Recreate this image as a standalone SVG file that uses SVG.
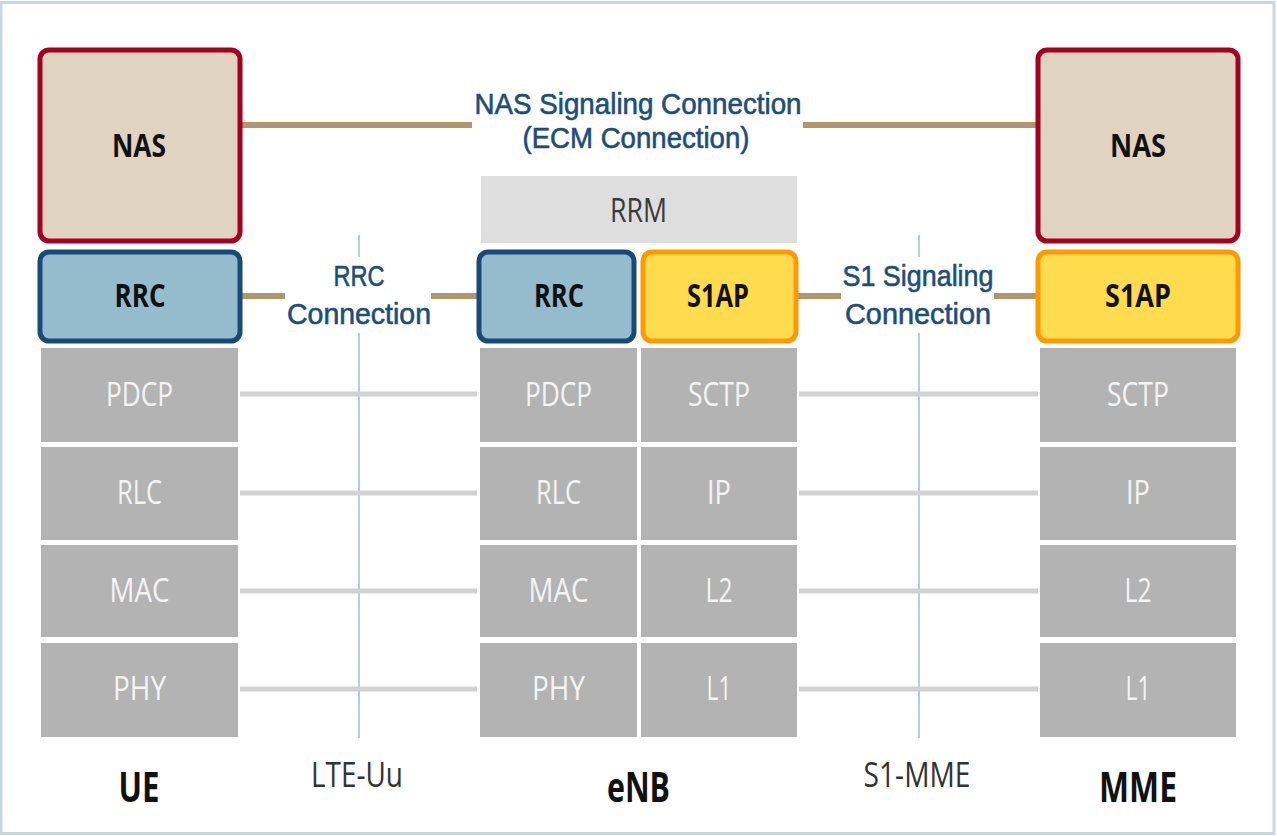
<svg xmlns="http://www.w3.org/2000/svg" width="1277" height="836" viewBox="0 0 1277 836">
  <style>
    .lbl { font-family: "Open Sans", "Liberation Sans", sans-serif; text-anchor: middle; }
    .bold { font-weight: bold; fill: #111111; }
    .layer { fill: #b3b3b3; }
    .layer-txt { fill: #f4f4f4; font-size: 33px; }
    .conn { font-family: "Liberation Sans", "Open Sans", sans-serif; fill: #1d4e7a; font-size: 29px; stroke: #1d4e7a; stroke-width: 0.6; }
    .iface { fill: #333333; font-size: 34px; }
    .nas { fill: #e0d3bf; stroke: #a50021; stroke-width: 5; }
    .rrc { fill: #94bccd; stroke: #174a78; stroke-width: 5; }
    .s1ap { fill: #fedc4d; stroke: #ff9900; stroke-width: 5; }
    .tan { stroke: #b39569; stroke-width: 6; fill: none; }
    .peer { stroke: #d2d2d2; stroke-width: 5; fill: none; }
    .ref { stroke: #b8cbe4; stroke-width: 2; fill: none; }
  </style>

  <!-- page frame -->
  <rect x="0" y="0" width="1277" height="836" fill="#ffffff"/>
  <rect x="1" y="2.5" width="1273" height="831" fill="none" stroke="#c8d6ea" stroke-width="3"/>

  <!-- connectors -->
  <g id="connectors">
    <!-- reference points -->
    <path class="ref" d="M359 235V257M359 333V738"/>
    <path class="ref" d="M919 235V257M919 333V738"/>
    <!-- peer-layer links -->
    <path class="peer" d="M240 394H477M240 493H477M240 591H477M240 689H477"/>
    <path class="peer" d="M799 394H1038M799 493H1038M799 591H1038M799 689H1038"/>
    <!-- signaling connections -->
    <path class="tan" d="M242 125H472M803 125H1036"/>
    <path class="tan" d="M242 296H285M431 296H477"/>
    <path class="tan" d="M798 296H841M994 296H1036"/>
  </g>

  <!-- connection labels -->
  <g id="nas-connection-label">
    <text class="lbl conn" x="638" y="114" textLength="327" lengthAdjust="spacingAndGlyphs">NAS Signaling Connection</text>
    <text class="lbl conn" x="636" y="148" textLength="227" lengthAdjust="spacingAndGlyphs">(ECM Connection)</text>
  </g>
  <g id="rrc-connection-label">
    <text class="lbl conn" x="359" y="286" textLength="51" lengthAdjust="spacingAndGlyphs">RRC</text>
    <text class="lbl conn" x="359" y="324" textLength="144" lengthAdjust="spacingAndGlyphs">Connection</text>
  </g>
  <g id="s1-connection-label">
    <text class="lbl conn" x="918" y="286" textLength="151" lengthAdjust="spacingAndGlyphs">S1 Signaling</text>
    <text class="lbl conn" x="918" y="324" textLength="146" lengthAdjust="spacingAndGlyphs">Connection</text>
  </g>

  <!-- UE stack -->
  <g id="ue">
    <rect class="nas" x="40" y="50" width="200" height="191" rx="9"/>
    <text class="lbl bold" x="139" y="157" font-size="33" textLength="54" lengthAdjust="spacingAndGlyphs">NAS</text>
    <rect class="rrc" x="40" y="252" width="200" height="89" rx="9"/>
    <text class="lbl bold" x="140" y="307" font-size="33" textLength="51" lengthAdjust="spacingAndGlyphs">RRC</text>
    <rect class="layer" x="41" y="348" width="197" height="94"/>
    <text class="lbl layer-txt" x="139.5" y="406" textLength="67" lengthAdjust="spacingAndGlyphs">PDCP</text>
    <rect class="layer" x="41" y="447" width="197" height="93"/>
    <text class="lbl layer-txt" x="139.5" y="504" textLength="45" lengthAdjust="spacingAndGlyphs">RLC</text>
    <rect class="layer" x="41" y="545" width="197" height="92"/>
    <text class="lbl layer-txt" x="139.5" y="602" textLength="60" lengthAdjust="spacingAndGlyphs">MAC</text>
    <rect class="layer" x="41" y="643" width="197" height="94"/>
    <text class="lbl layer-txt" x="139.5" y="700" textLength="53" lengthAdjust="spacingAndGlyphs">PHY</text>
    <text class="lbl bold" x="139" y="802" font-size="42" textLength="41" lengthAdjust="spacingAndGlyphs">UE</text>
  </g>

  <!-- eNB stack -->
  <g id="enb">
    <rect x="481" y="176" width="316" height="67" fill="#dedede"/>
    <text class="lbl" x="638.5" y="222" font-size="33" fill="#3a3a3a" textLength="57" lengthAdjust="spacingAndGlyphs">RRM</text>
    <rect class="rrc" x="479" y="252" width="155" height="89" rx="9"/>
    <text class="lbl bold" x="559" y="307" font-size="33" textLength="50" lengthAdjust="spacingAndGlyphs">RRC</text>
    <rect class="s1ap" x="643" y="252" width="153" height="89" rx="9"/>
    <text class="lbl bold" x="718" y="307" font-size="33" textLength="62" lengthAdjust="spacingAndGlyphs">S1AP</text>

    <rect class="layer" x="480" y="348" width="157" height="94"/>
    <text class="lbl layer-txt" x="558.5" y="406" textLength="67" lengthAdjust="spacingAndGlyphs">PDCP</text>
    <rect class="layer" x="480" y="447" width="157" height="93"/>
    <text class="lbl layer-txt" x="558.5" y="504" textLength="45" lengthAdjust="spacingAndGlyphs">RLC</text>
    <rect class="layer" x="480" y="545" width="157" height="92"/>
    <text class="lbl layer-txt" x="558.5" y="602" textLength="60" lengthAdjust="spacingAndGlyphs">MAC</text>
    <rect class="layer" x="480" y="643" width="157" height="94"/>
    <text class="lbl layer-txt" x="558.5" y="700" textLength="53" lengthAdjust="spacingAndGlyphs">PHY</text>

    <rect class="layer" x="641" y="348" width="156" height="94"/>
    <text class="lbl layer-txt" x="719" y="406" textLength="62" lengthAdjust="spacingAndGlyphs">SCTP</text>
    <rect class="layer" x="641" y="447" width="156" height="93"/>
    <text class="lbl layer-txt" x="719" y="504" textLength="24" lengthAdjust="spacingAndGlyphs">IP</text>
    <rect class="layer" x="641" y="545" width="156" height="92"/>
    <text class="lbl layer-txt" x="719" y="602" textLength="27" lengthAdjust="spacingAndGlyphs">L2</text>
    <rect class="layer" x="641" y="643" width="156" height="94"/>
    <text class="lbl layer-txt" x="719" y="700" textLength="25" lengthAdjust="spacingAndGlyphs">L1</text>
    <text class="lbl bold" x="638.5" y="802" font-size="42" textLength="63" lengthAdjust="spacingAndGlyphs">eNB</text>
  </g>

  <!-- MME stack -->
  <g id="mme">
    <rect class="nas" x="1038" y="50" width="200" height="191" rx="9"/>
    <text class="lbl bold" x="1138" y="157" font-size="33" textLength="56" lengthAdjust="spacingAndGlyphs">NAS</text>
    <rect class="s1ap" x="1038" y="252" width="200" height="89" rx="9"/>
    <text class="lbl bold" x="1138" y="307" font-size="33" textLength="66" lengthAdjust="spacingAndGlyphs">S1AP</text>
    <rect class="layer" x="1040" y="348" width="196" height="94"/>
    <text class="lbl layer-txt" x="1138" y="406" textLength="62" lengthAdjust="spacingAndGlyphs">SCTP</text>
    <rect class="layer" x="1040" y="447" width="196" height="93"/>
    <text class="lbl layer-txt" x="1138" y="504" textLength="24" lengthAdjust="spacingAndGlyphs">IP</text>
    <rect class="layer" x="1040" y="545" width="196" height="92"/>
    <text class="lbl layer-txt" x="1138" y="602" textLength="27" lengthAdjust="spacingAndGlyphs">L2</text>
    <rect class="layer" x="1040" y="643" width="196" height="94"/>
    <text class="lbl layer-txt" x="1138" y="700" textLength="25" lengthAdjust="spacingAndGlyphs">L1</text>
    <text class="lbl bold" x="1138" y="802" font-size="42" textLength="78" lengthAdjust="spacingAndGlyphs">MME</text>
  </g>

  <!-- interface names -->
  <g id="interfaces">
    <text class="lbl iface" x="357" y="787" textLength="92" lengthAdjust="spacingAndGlyphs">LTE-Uu</text>
    <text class="lbl iface" x="917" y="787" textLength="107" lengthAdjust="spacingAndGlyphs">S1-MME</text>
  </g>
</svg>
